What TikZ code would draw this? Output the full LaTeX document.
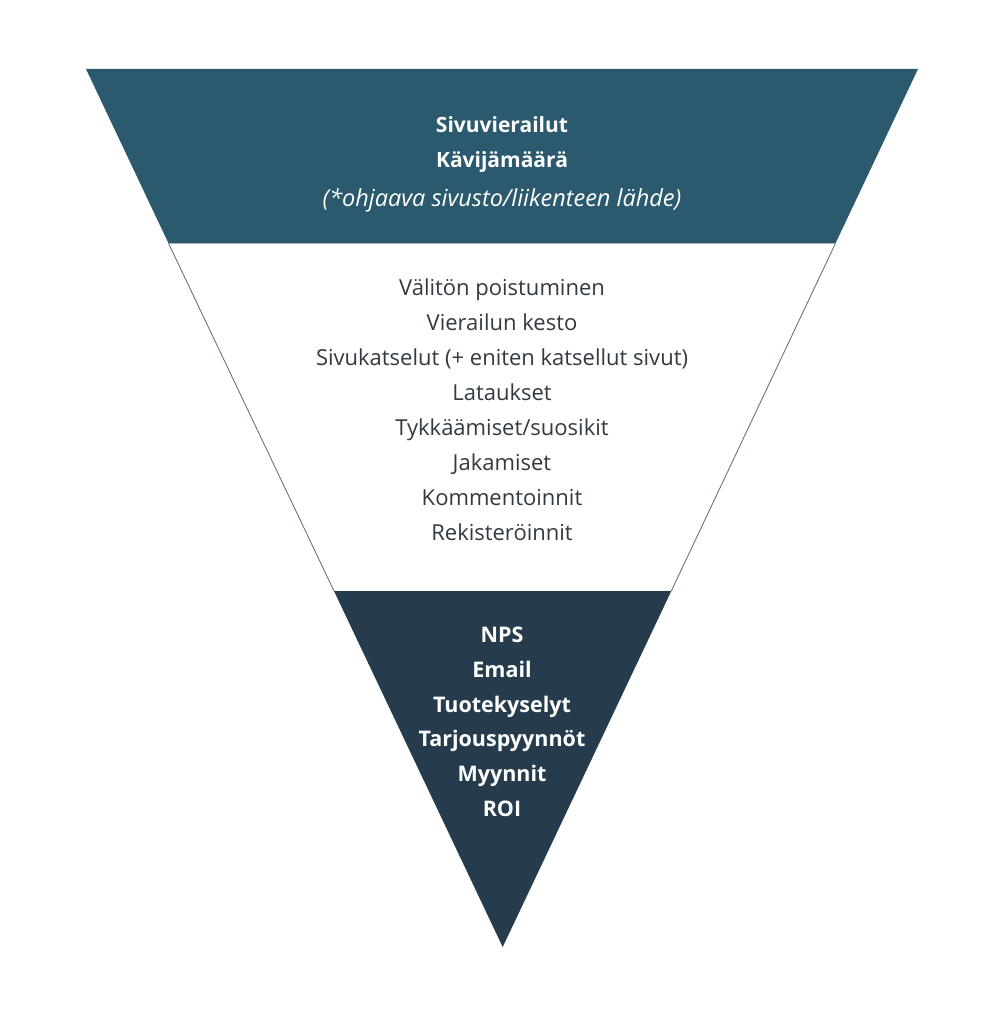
\documentclass[tikz,border=0pt]{standalone}
\usepackage{fontspec}
\setmainfont{Open Sans}
\definecolor{topband}{RGB}{43,90,110}
\definecolor{botband}{RGB}{38,60,77}
\definecolor{midtext}{RGB}{50,58,66}
\definecolor{edgeline}{RGB}{90,105,120}
\begin{document}
\begin{tikzpicture}[x=1pt,y=-1pt,
  toptext/.style={text=white,font=\fontsize{21}{24}\selectfont\bfseries,anchor=base},
  topital/.style={text=white,font=\fontsize{23.5}{24}\selectfont\itshape,anchor=base},
  midline/.style={text=midtext,font=\fontsize{22}{24}\selectfont,anchor=base},
  bottext/.style={text=white,font=\fontsize{21.5}{24}\selectfont\bfseries,anchor=base}]
\useasboundingbox (0,0) rectangle (1006,1024);
\fill[white] (0,0) rectangle (1006,1024);
% funnel corners
\coordinate (TL) at (86,69);
\coordinate (TR) at (918,69);
\coordinate (A) at (502.7,947);
\coordinate (ML) at (168.6,243.5);
\coordinate (MR) at (835.4,243.5);
\coordinate (BL) at (334,591);
\coordinate (BR) at (671.3,591);
% bands
\fill[topband] (TL) -- (TR) -- (MR) -- (ML) -- cycle;
\draw[edgeline,line width=0.8pt] (ML) -- (BL);
\draw[edgeline,line width=0.8pt] (MR) -- (BR);
\draw[edgeline!50,line width=0.6pt] (ML) -- (MR);
\fill[botband] (BL) -- (BR) -- (A) -- cycle;
% top texts
\node[toptext] (t1) at (502,132.5) {Sivuvierailut};
\node[toptext] (t2) at (502,167.5) {Kävijämäärä};
\node[topital] (t3) at (502,207) {(*ohjaava sivusto/liikenteen lähde)};
% middle texts
\node[midline] (m1) at (502,295) {Välitön poistuminen};
\node[midline] (m2) at (502,330) {Vierailun kesto};
\node[midline] (m3) at (502,365) {Sivukatselut (+ eniten katsellut sivut)};
\node[midline] (m4) at (502,400) {Lataukset};
\node[midline] (m5) at (502,435) {Tykkäämiset/suosikit};
\node[midline] (m6) at (502,470) {Jakamiset};
\node[midline] (m7) at (502,505) {Kommentoinnit};
\node[midline] (m8) at (502,540) {Rekisteröinnit};
% bottom texts
\node[bottext] (b1) at (502,642) {NPS};
\node[bottext] (b2) at (502,677) {Email};
\node[bottext] (b3) at (502,712) {Tuotekyselyt};
\node[bottext] (b4) at (502,746.5) {Tarjouspyynnöt};
\node[bottext] (b5) at (502,781) {Myynnit};
\node[bottext] (b6) at (502,816) {ROI};
\end{tikzpicture}
\end{document}
